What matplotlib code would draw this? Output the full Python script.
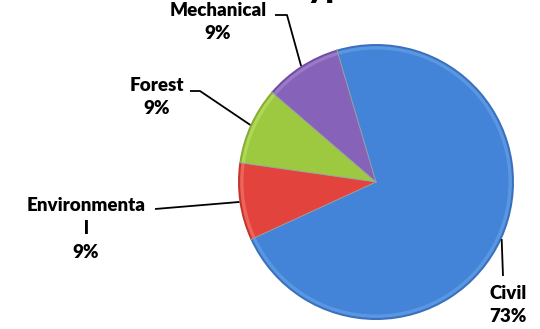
import matplotlib
matplotlib.use('Agg')
import matplotlib.pyplot as plt
import numpy as np

# slice data (counts), read as 73% / 9% / 9% / 9%
categories = ['Civil', 'Environmental', 'Forest', 'Mechanical']
label_text = ['Civil\n73%', 'Environmenta\nl\n9%', 'Forest\n9%', 'Mechanical\n9%']
values = [8, 1, 1, 1]
title = 'Type'

base_colors = ['#4383d8', '#e2433c', '#9cc940', '#8662b8']
rim_colors = ['#3a70bd', '#c2362f', '#84ad32', '#704ea2']
light_colors = ['#5a97e2', '#ee645a', '#b0d858', '#9a7ac8']

plt.rcParams['font.family'] = ['Lato', 'DejaVu Sans']

W, H = 540, 329
fig = plt.figure(figsize=(W / 100, H / 100), dpi=100)

# pie centre and radius in pixels (top-left origin)
cx, cy, R = 376, 182, 138
ax = fig.add_axes([(cx - R) / W, (H - cy - R) / H, 2 * R / W, 2 * R / H])

start = 106.5
# layered wedges to fake the bevel look
ax.pie(values, colors=rim_colors, radius=1.0, startangle=start,
       counterclock=False, wedgeprops=dict(linewidth=0))
ax.pie(values, colors=light_colors, radius=0.985, startangle=start,
       counterclock=False, wedgeprops=dict(linewidth=0))
wedges, _ = ax.pie(values, colors=base_colors, radius=0.96, startangle=start,
                   counterclock=False, wedgeprops=dict(linewidth=0))
# thin separators between slices
for w in wedges:
    a = np.deg2rad(w.theta1)
    ax.plot([0, np.cos(a)], [0, np.sin(a)], color='#9aa0a8', lw=0.7)

ax.set_xlim(-1, 1)
ax.set_ylim(-1, 1)
ax.set_aspect('equal')
ax.axis('off')


def px(x, y):
    return (x - cx) / R, (cy - y) / R


# leader elbows and label centres, pixels
elbows = [(503, 276), (155, 209), (200, 91), (287, 15)]
ends = [(503, 276), (155, 209), (190, 91), (275, 15)]
label_pos = [(508, 305), (86, 229), (157, 97), (218, 22)]

for w, el, en, lp, txt in zip(wedges, elbows, ends, label_pos, label_text):
    mid = np.deg2rad((w.theta1 + w.theta2) / 2)
    ex, ey = np.cos(mid), np.sin(mid)
    bx, by = px(*el)
    tx, ty = px(*en)
    ax.plot([ex, bx, tx], [ey, by, ty], color='black', lw=1.3,
            clip_on=False, solid_capstyle='butt')
    lx, ly = px(*lp)
    ax.text(lx, ly, txt, ha='center', va='center', fontsize=13.5,
            fontweight='heavy', linespacing=1.45, clip_on=False)

# title sits mostly above the canvas, only descenders show
fig.text(325 / W, 1 + 3 / H, title, ha='center', va='baseline',
         fontsize=24, fontweight='heavy')

fig.savefig('out.png', dpi=100)
